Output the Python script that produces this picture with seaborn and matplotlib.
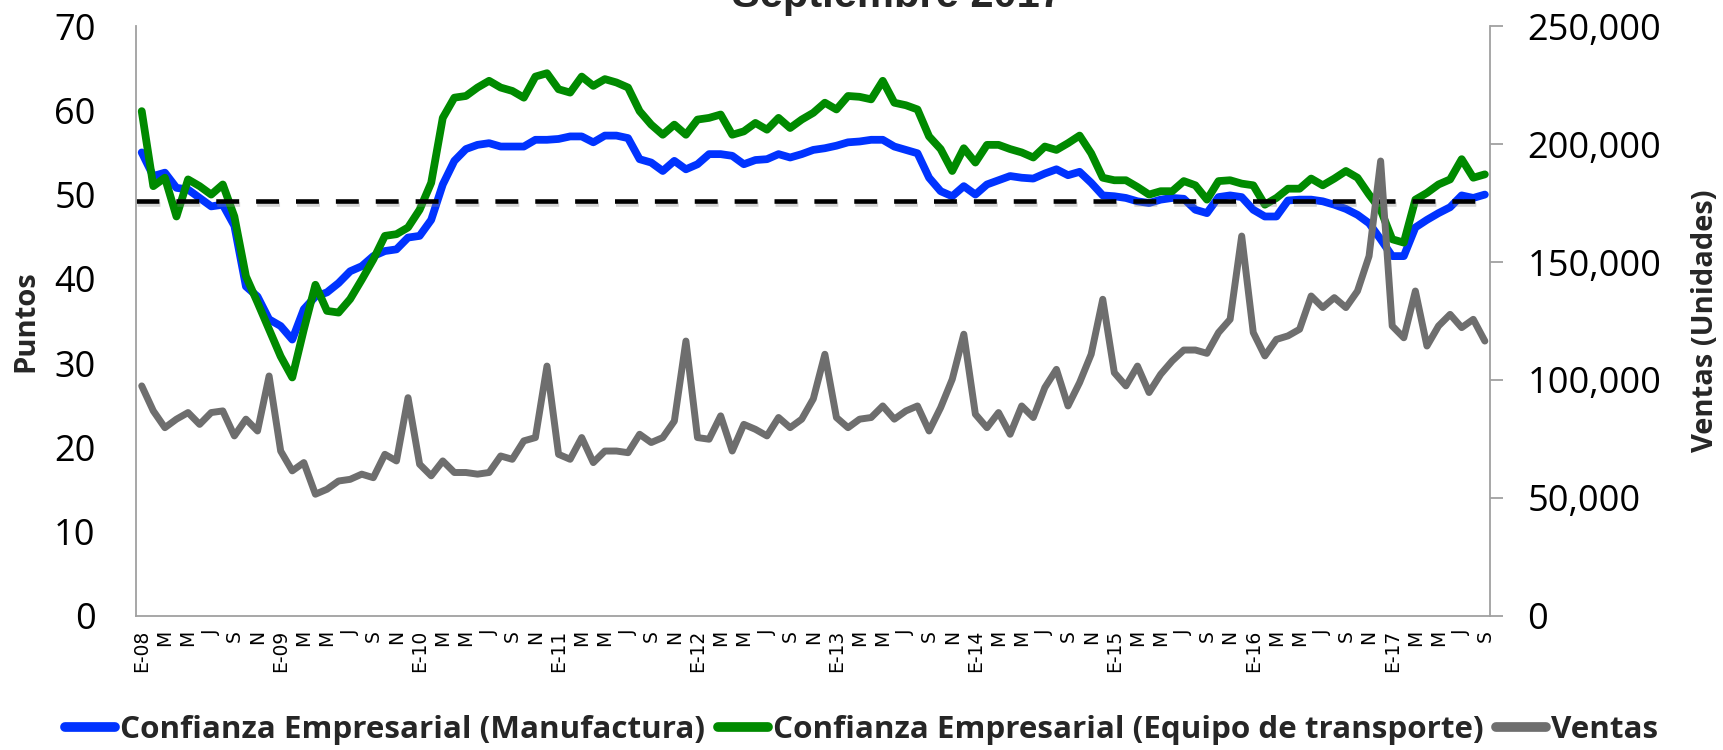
import numpy as np
import pandas as pd
import matplotlib
matplotlib.use('Agg')
import matplotlib.pyplot as plt
import seaborn as sns
from matplotlib import patheffects as pe
from matplotlib.lines import Line2D
from matplotlib.ticker import FuncFormatter

# Datos mensuales, enero 2008 - septiembre 2017
manufactura = [
    55.0, 52.2, 52.6, 50.8, 50.6, 49.6, 48.6, 48.8, 46.3, 39.1, 37.9, 35.2,
    34.4, 32.8, 36.4, 37.9, 38.4, 39.5, 40.9, 41.5, 42.7, 43.3, 43.5, 44.9,
    45.1, 47.0, 51.2, 54.0, 55.4, 55.9, 56.1, 55.7, 55.7, 55.7, 56.5, 56.5,
    56.6, 56.9, 56.9, 56.2, 57.0, 57.0, 56.7, 54.2, 53.8, 52.8, 54.0, 53.0,
    53.6, 54.8, 54.8, 54.6, 53.6, 54.1, 54.2, 54.8, 54.4, 54.8, 55.3, 55.5,
    55.8, 56.2, 56.3, 56.5, 56.5, 55.7, 55.3, 54.9, 52.0, 50.4, 49.8, 51.0,
    50.0, 51.2, 51.7, 52.2, 52.0, 51.9, 52.5, 53.0, 52.3, 52.7, 51.4, 49.9,
    49.8, 49.6, 49.2, 49.0, 49.4, 49.6, 49.5, 48.2, 47.8, 49.7, 49.9, 49.7,
    48.2, 47.4, 47.4, 49.3, 49.4, 49.4, 49.2, 48.8, 48.3, 47.6, 46.6, 44.7,
    42.7, 42.7, 46.1, 47.0, 47.8, 48.5, 49.9, 49.6, 50.0,
]
transporte = [
    59.9, 51.0, 52.0, 47.4, 51.8, 51.0, 50.0, 51.2, 47.4, 40.3, 37.2, 34.0,
    30.8, 28.3, 34.0, 39.3, 36.2, 36.0, 37.6, 39.9, 42.3, 45.1, 45.3, 46.1,
    48.2, 51.4, 59.1, 61.5, 61.7, 62.7, 63.5, 62.7, 62.3, 61.5, 64.0, 64.4,
    62.5, 62.1, 64.0, 62.9, 63.7, 63.3, 62.7, 59.9, 58.3, 57.1, 58.3, 57.1,
    58.9, 59.1, 59.5, 57.1, 57.5, 58.5, 57.7, 59.1, 57.9, 58.9, 59.7, 60.9,
    60.1, 61.7, 61.6, 61.3, 63.5, 60.9, 60.6, 60.1, 56.9, 55.4, 52.8, 55.5,
    53.8, 55.9, 55.9, 55.4, 55.0, 54.4, 55.7, 55.3, 56.1, 57.0, 54.9, 52.0,
    51.7, 51.7, 50.9, 50.0, 50.4, 50.4, 51.6, 51.1, 49.4, 51.6, 51.7, 51.3,
    51.1, 48.8, 49.6, 50.7, 50.7, 51.9, 51.1, 51.9, 52.8, 52.0, 50.0, 48.2,
    44.7, 44.3, 49.4, 50.2, 51.2, 51.8, 54.2, 52.0, 52.4,
]
ventas = [
    97500, 86900, 79800, 83400, 86200, 81200, 86200, 86900, 76300, 83400, 78400, 101700,
    69900, 61500, 65000, 51600, 53700, 57200, 57900, 60100, 58600, 68500, 65700, 92500,
    64300, 59400, 65700, 60800, 60800, 60100, 60800, 67800, 66400, 74200, 75600, 105900,
    68500, 66400, 75600, 65000, 69900, 69900, 69200, 77000, 73500, 75600, 82600, 116500,
    75600, 74900, 84800, 69900, 81200, 79100, 76300, 84100, 79800, 83400, 92000, 110900,
    84100, 79800, 83400, 84100, 89000, 83400, 86900, 89000, 78400, 88300, 100300, 119400,
    85500, 79800, 86200, 77000, 89000, 84100, 96800, 104500, 89000, 98900, 110900, 134200,
    103100, 97500, 105900, 94700, 102400, 108100, 112700, 112700, 111300, 120100, 125700, 161000,
    120100, 110200, 117200, 118700, 121500, 135600, 130700, 134900, 130700, 137700, 152500, 192800,
    122900, 117900, 137700, 114400, 122900, 127800, 122200, 125700, 116500,
]
umbral = 49.2

anios = ['08', '09', '10', '11', '12', '13', '14', '15', '16', '17']
letras_mes = ['E', 'M', 'M', 'J', 'S', 'N']  # meses pares: ene, mar, may, jul, sep, nov

etiquetas = []
for a in anios:
    for k, l in enumerate(letras_mes):
        etiquetas.append(f'E-{a}' if k == 0 else l)
n = len(manufactura)
etiquetas = etiquetas[:len(range(0, n, 2))]

AZUL = '#0033FF'
VERDE = '#008A00'
GRIS = '#6E6E6E'
EJE = '#A0A0A0'

sns.set_theme(style='white')
plt.rcParams['font.family'] = ['Open Sans', 'DejaVu Sans']

df = pd.DataFrame({'mes': np.arange(n), 'manufactura': manufactura,
                   'transporte': transporte, 'ventas': ventas})

fig = plt.figure(figsize=(17.23, 7.5), dpi=100)
ax = fig.add_axes([0.0789, 0.1787, 0.7859, 0.7866])

sns.lineplot(data=df, x='mes', y='manufactura', ax=ax, color=AZUL, lw=5.6,
             solid_joinstyle='round', legend=False)
sns.lineplot(data=df, x='mes', y='transporte', ax=ax, color=VERDE, lw=5.6,
             solid_joinstyle='round', legend=False)
# linea de referencia con sombra suave
ax.axhline(umbral, xmax=0.993, color='black', lw=3.3, dashes=(5, 3.7),
           path_effects=[pe.SimpleLineShadow(offset=(1, -2), shadow_color='#888888', alpha=0.35),
                         pe.Normal()])

ax2 = ax.twinx()
sns.lineplot(data=df, x='mes', y='ventas', ax=ax2, color=GRIS, lw=5,
             solid_joinstyle='round', legend=False)

ax.set_xlim(-0.5, 116.45)
ax.set_ylim(0, 70)
ax2.set_ylim(0, 250000)
ax.set_yticks(range(0, 71, 10))
ax2.set_yticks(range(0, 250001, 50000))
ax2.yaxis.set_major_formatter(FuncFormatter(lambda v, p: f'{int(v):,}'))

ax.set_xticks(np.arange(0, n, 2))
ax.set_xticklabels(etiquetas, rotation=90, fontsize=13.5, family='DejaVu Sans')
ax.tick_params(axis='x', length=0, pad=10, colors='black')
ax.tick_params(axis='y', length=0, pad=29, labelsize=26, colors='black')
ax2.tick_params(axis='y', length=9, width=1.3, color=EJE, pad=18, labelsize=26, labelcolor='black')

ax.set_xlabel('')
ax.set_ylabel('')
ax2.set_ylabel('')

for s in ['top', 'right']:
    ax.spines[s].set_visible(False)
for s in ['left', 'bottom']:
    ax.spines[s].set_color(EJE)
    ax.spines[s].set_linewidth(1.3)
for s in ['top', 'left', 'bottom']:
    ax2.spines[s].set_visible(False)
ax2.spines['right'].set_color(EJE)
ax2.spines['right'].set_linewidth(1.3)

fig.text(0.0151, 0.572, 'Puntos', rotation=90, ha='center', va='center',
         fontsize=21, fontweight='bold')
fig.text(0.990, 0.572, 'Ventas (Unidades)', rotation=90, ha='center', va='center',
         fontsize=21, fontweight='bold')
fig.text(0.5206, 0.9907, 'Septiembre 2017', ha='center', va='baseline',
         fontsize=30, fontweight='bold', family='Liberation Sans')

handles = [Line2D([], [], color=AZUL, lw=7, solid_capstyle='round'),
           Line2D([], [], color=VERDE, lw=7, solid_capstyle='round'),
           Line2D([], [], color=GRIS, lw=7, solid_capstyle='round')]
nombres = ['Confianza Empresarial (Manufactura)',
           'Confianza Empresarial (Equipo de transporte)',
           'Ventas']
fig.legend(handles, nombres, loc='center', bbox_to_anchor=(0.5, 0.027), ncol=3,
           frameon=False, prop=dict(weight='bold', size=22.6), handlelength=1.6,
           handletextpad=0.15, columnspacing=0.4)

fig.savefig('out.png', dpi=100)
